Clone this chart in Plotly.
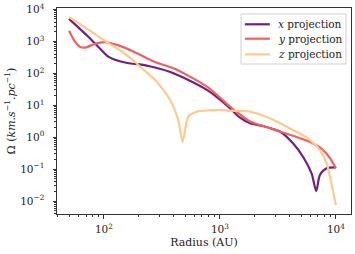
import plotly.graph_objects as go

# ---- data ----
r_x = [50, 73.3, 89.1, 108.9, 142.2, 184.9, 204.2, 275.4, 393.6, 772.7, 1219, 1479, 1820, 2344, 3289, 4266, 5200, 6166, 6761, 7278, 8318, 10000]
omega_x = [5012, 1380, 676, 331, 229, 195, 190, 151, 102, 30.2, 8.13, 4.17, 2.75, 2.24, 1.51, 0.646, 0.245, 0.0741, 0.0209, 0.0661, 0.107, 0.115]

r_y = [50, 56.2, 62.1, 68.5, 83.6, 102, 131.8, 184.9, 275.4, 393.6, 772.7, 1219, 1479, 1820, 2213, 3289, 4898, 6310, 7762, 8913, 10000]
omega_y = [2138, 977, 676, 631, 832, 933, 759, 457, 224, 145, 38.0, 9.12, 5.25, 3.09, 2.40, 1.51, 0.933, 0.646, 0.398, 0.219, 0.107]

r_z = [50, 70.8, 102, 142.2, 184.9, 204.2, 275.4, 370.7, 436.5, 476.4, 533.3, 631, 794, 1000, 1219, 1820, 2692, 3981, 5970, 7278, 8318, 9120, 10000]
omega_z = [5754, 2512, 1023, 479, 229, 162, 61.7, 14.8, 3.47, 0.724, 4.37, 6.31, 6.92, 7.08, 6.76, 6.31, 3.89, 1.91, 0.832, 0.398, 0.155, 0.0363, 0.00759]

series_names = ["<i>x</i> projection", "<i>y</i> projection", "<i>z</i> projection"]
series_colors = ["#721f81", "#f1605d", "#feca8d"]

x_tick_vals = [100, 1000, 10000]
x_tick_text = ["10<sup>2</sup>", "10<sup>3</sup>", "10<sup>4</sup>"]
y_tick_vals = [0.01, 0.1, 1, 10, 100, 1000, 10000]
y_tick_text = ["10<sup>−2</sup>", "10<sup>−1</sup>", "10<sup>0</sup>", "10<sup>1</sup>",
               "10<sup>2</sup>", "10<sup>3</sup>", "10<sup>4</sup>"]

FONT = "DejaVu Serif"

fig = go.Figure()
for rr, om, name, col in zip([r_x, r_y, r_z], [omega_x, omega_y, omega_z], series_names, series_colors):
    fig.add_trace(go.Scatter(x=rr, y=om, mode="lines", name=name, showlegend=False,
                             line=dict(color=col, width=2.2, shape="spline", smoothing=0.8)))

minor_x = [m * 10 ** e for e in range(1, 5) for m in range(2, 10)]
minor_y = [m * 10 ** e for e in range(-3, 4) for m in range(2, 10)]

axis_common = dict(showgrid=False, zeroline=False, showline=True, linecolor="#333333",
                   linewidth=1, mirror=True, ticks="outside", ticklen=3.5, tickwidth=0.8,
                   tickcolor="#333333", automargin=False,
                   tickfont=dict(family=FONT, size=10.5, color="#222222"))

fig.update_xaxes(type="log", range=[1.595, 4.13], tickmode="array", tickvals=x_tick_vals,
                 ticktext=x_tick_text, ticklabelstandoff=2,
                 minor=dict(tickmode="array", tickvals=minor_x, ticks="outside", ticklen=2,
                            tickwidth=0.6, tickcolor="#333333", showgrid=False),
                 title=dict(text="Radius (AU)", font=dict(family=FONT, size=11, color="#222222"),
                            standoff=4),
                 **axis_common)
fig.update_yaxes(type="log", range=[-2.40, 4.04], tickmode="array", tickvals=y_tick_vals,
                 ticktext=y_tick_text, ticklabelstandoff=6,
                 minor=dict(tickmode="array", tickvals=minor_y, ticks="outside", ticklen=2,
                            tickwidth=0.6, tickcolor="#333333", showgrid=False),
                 title=dict(text="Ω (<i>km.s</i><sup>−1</sup><i>.pc</i><sup>−1</sup>)",
                            font=dict(family=FONT, size=11, color="#222222"), standoff=2),
                 **axis_common)

# ---- legend drawn in paper coordinates (matplotlib-style box) ----
leg_x0, leg_x1, leg_y0, leg_y1 = 0.626, 0.983, 0.728, 0.971
row_y = [0.921, 0.851, 0.775]
fig.add_shape(type="rect", xref="paper", yref="paper", x0=leg_x0, x1=leg_x1, y0=leg_y0, y1=leg_y1,
              line=dict(color="#d0d0d0", width=1), fillcolor="rgba(255,255,255,0.85)", layer="above")
for ry, name, col in zip(row_y, series_names, series_colors):
    fig.add_shape(type="line", xref="paper", yref="paper", x0=0.639, x1=0.724, y0=ry, y1=ry,
                  line=dict(color=col, width=2.2), layer="above")
    fig.add_annotation(xref="paper", yref="paper", x=0.745, y=ry, text=name, showarrow=False,
                       xanchor="left", yanchor="middle",
                       font=dict(family=FONT, size=10.5, color="#222222"))

fig.update_layout(
    width=355, height=254,
    margin=dict(l=57, r=4, t=8, b=40),
    paper_bgcolor="white", plot_bgcolor="white",
    showlegend=False,
)

fig.write_html("out.html", config={"displayModeBar": False},
               post_script="document.body.style.margin='0';")
